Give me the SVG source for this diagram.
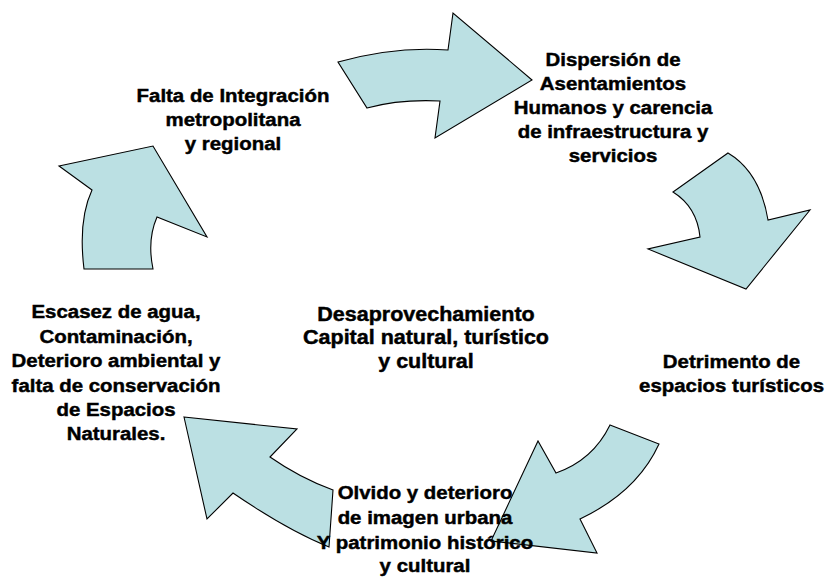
<svg xmlns="http://www.w3.org/2000/svg" width="829" height="578" viewBox="0 0 829 578">
<style>
.arrow{fill:#BBE0E3;stroke:#000;stroke-width:1.1;stroke-linejoin:miter}
.t{font-family:"Liberation Sans",Arial,sans-serif;font-weight:bold;font-size:19px;fill:#000;stroke:#000;stroke-width:0.45;text-anchor:middle}
.c{font-size:20px}
</style>
<rect width="829" height="578" fill="#fff"/>
<g id="connectors">
<path class="arrow" d="M338,62 Q395,46 448,50 L453,13 L532,80 L435,138 L440,101 Q400,99 367,108 Z"/>
<path class="arrow" d="M728,153 Q760,172 768,220 L810,210 L746,289 L648,249 L700,237 Q697,207 673,192 Z"/>
<path class="arrow" d="M610,425 L659,444 Q637,492 580,519 L597,553 L491,541 L538,441 L556,473 Q593,460 610,425 Z"/>
<path class="arrow" d="M184,417 L297,429 L270,457 Q300,478 333,490 L329,547 Q287,530 233,493 L207,519 Z"/>
<path class="arrow" d="M59,166 L153,146 L207,237 L157,217 Q147,240 153,269 L84,269 Q78,220 92,190 Z"/>
</g>
<g id="node-falta" transform="translate(233,0) scale(1.075,1)">
<text class="t" x="0" y="102">Falta de Integración</text>
<text class="t" x="0" y="126">metropolitana</text>
<text class="t" x="0" y="150">y regional</text>
</g>
<g id="node-dispersion" transform="translate(613,0) scale(1.075,1)">
<text class="t" x="0" y="66">Dispersión de</text>
<text class="t" x="0" y="90">Asentamientos</text>
<text class="t" x="0" y="114">Humanos y carencia</text>
<text class="t" x="0" y="138">de infraestructura y</text>
<text class="t" x="0" y="162">servicios</text>
</g>
<g id="node-detrimento" transform="translate(731.5,0) scale(1.075,1)">
<text class="t" x="0" y="368">Detrimento de</text>
<text class="t" x="0" y="392">espacios turísticos</text>
</g>
<g id="node-olvido" transform="translate(425,0) scale(1.075,1)">
<text class="t" x="0" y="499">Olvido y deterioro</text>
<text class="t" x="0" y="524">de imagen urbana</text>
<text class="t" x="0" y="549">Y patrimonio histórico</text>
<text class="t" x="0" y="572">y cultural</text>
</g>
<g id="node-escasez" transform="translate(116,0) scale(1.075,1)">
<text class="t" x="0" y="318">Escasez de agua,</text>
<text class="t" x="0" y="343">Contaminación,</text>
<text class="t" x="0" y="367">Deterioro ambiental y</text>
<text class="t" x="0" y="392">falta de conservación</text>
<text class="t" x="0" y="416">de Espacios</text>
<text class="t" x="0" y="440">Naturales.</text>
</g>
<g id="node-centro" transform="translate(426,0) scale(1.075,1)">
<text class="t c" x="0" y="321">Desaprovechamiento</text>
<text class="t c" x="0" y="344">Capital natural, turístico</text>
<text class="t c" x="0" y="368">y cultural</text>
</g>
</svg>
